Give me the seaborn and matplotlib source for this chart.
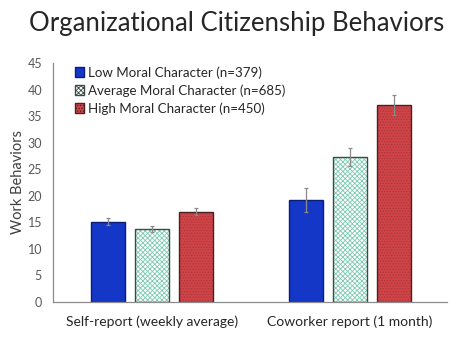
import matplotlib
matplotlib.use("Agg")
import matplotlib.pyplot as plt
import seaborn as sns
import pandas as pd
import numpy as np
from matplotlib.patches import Patch

categories = ["Self-report (weekly average)", "Coworker report (1 month)"]
groups = ["Low Moral Character (n=379)", "Average Moral Character (n=685)", "High Moral Character (n=450)"]
low_vals = [15.1, 19.2]
avg_vals = [13.7, 27.3]
high_vals = [17.0, 37.1]
low_err = [0.7, 2.2]
avg_err = [0.6, 1.7]
high_err = [0.7, 1.9]
yticks = [0, 5, 10, 15, 20, 25, 30, 35, 40, 45]

rows = []
for g, vals in zip(groups, [low_vals, avg_vals, high_vals]):
    for c, v in zip(categories, vals):
        rows.append({"cat": c, "grp": g, "val": v})
df = pd.DataFrame(rows)

sns.set_theme(style="white")
plt.rcParams['font.family'] = ['Lato', 'DejaVu Sans']
plt.rcParams['hatch.linewidth'] = 0.6

fig = plt.figure(figsize=(4.74, 3.54), dpi=100)
ax = fig.add_axes([0.112, 0.147, 0.831, 0.675])

fills = ["#1537c8", "#ffffff", "#d04448"]
edges = ["#0b1d7a", "#3a4a44", "#4a2222"]
hatches = [None, "xxxxxxx", "......"]
hatch_cols = [None, "#7ccab0", "#a8383c"]

sns.barplot(data=df, x="cat", y="val", hue="grp", order=categories, hue_order=groups,
            palette=fills, width=0.667, gap=0.23, errorbar=None, ax=ax, legend=False,
            saturation=1)

errs = [low_err, avg_err, high_err]
valsets = [low_vals, avg_vals, high_vals]
bar_containers = list(ax.containers)
for gi, cont in enumerate(bar_containers):
    for ci, bar in enumerate(cont.patches):
        bar.set_edgecolor(edges[gi])
        bar.set_linewidth(1.0)
        if hatches[gi]:
            bar.set_hatch(hatches[gi])
            bar._hatch_color = matplotlib.colors.to_rgba(hatch_cols[gi])
        cx = bar.get_x() + bar.get_width() / 2
        ax.errorbar(cx, valsets[gi][ci], yerr=errs[gi][ci], fmt="none",
                    ecolor="#8a8a8a", elinewidth=0.9, capsize=1.5, capthick=0.9)

ax.set_xlim(-0.5, 1.49)
ax.set_ylim(0, 45)
ax.set_yticks(yticks)
ax.tick_params(axis="y", labelsize=9, colors="#595959", length=0, pad=8)
ax.tick_params(axis="x", labelsize=10, colors="#262626", length=0, pad=10)
ax.set_xlabel("")
ax.set_ylabel("Work Behaviors", fontsize=10.5, color="#404040", labelpad=2)
for s in ["top", "right"]:
    ax.spines[s].set_visible(False)
ax.spines["left"].set_color("#8c8c8c")
ax.spines["bottom"].set_color("#8c8c8c")
ax.spines["left"].set_linewidth(0.9)
ax.spines["bottom"].set_linewidth(0.9)

handles = []
for gi in range(3):
    p = Patch(facecolor=fills[gi], edgecolor=edges[gi], hatch=hatches[gi], label=groups[gi])
    handles.append(p)
leg = ax.legend(handles=handles, loc="upper left", bbox_to_anchor=(0.035, 1.02), frameon=False,
                fontsize=9.6, handlelength=0.7, handleheight=0.7, handletextpad=0.3,
                labelspacing=0.4, borderaxespad=0.2)
for t in leg.get_texts():
    t.set_color("#262626")

fig.text(0.5, 0.935, "Organizational Citizenship Behaviors", ha="center", va="center",
         fontsize=18.5, color="#262626")

fig.savefig("out.png", dpi=100)
